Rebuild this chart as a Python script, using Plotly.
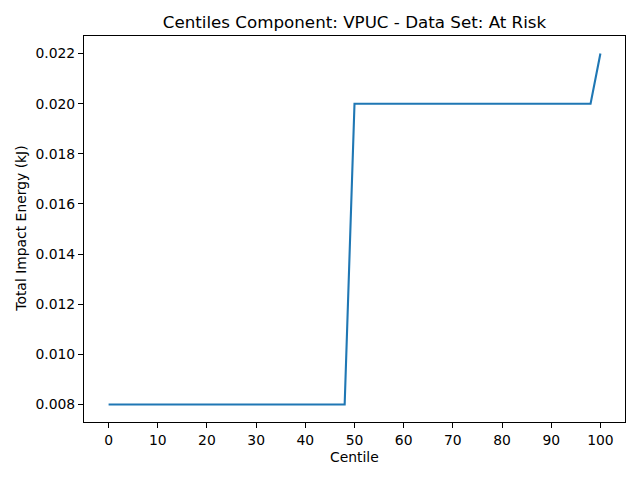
import plotly.graph_objects as go

centiles = [0, 2, 4, 6, 8, 10, 12, 14, 16, 18, 20, 22, 24, 26, 28, 30, 32, 34, 36, 38, 40,
            42, 44, 46, 48, 50, 52, 54, 56, 58, 60, 62, 64, 66, 68, 70, 72, 74, 76, 78, 80,
            82, 84, 86, 88, 90, 92, 94, 96, 98, 100]
energy = [0.008] * 25 + [0.020] * 25 + [0.022]

x_ticks = [0, 10, 20, 30, 40, 50, 60, 70, 80, 90, 100]
y_ticks = [0.008, 0.010, 0.012, 0.014, 0.016, 0.018, 0.020, 0.022]

font = "DejaVu Sans"
fig = go.Figure()
fig.add_trace(go.Scatter(x=centiles, y=energy, mode="lines",
                         line=dict(color="#1f77b4", width=2.1)))

axis_common = dict(showline=True, linecolor="black", linewidth=1, mirror=True,
                   ticks="outside", ticklen=5, tickwidth=1, tickcolor="black",
                   showgrid=False, zeroline=False, automargin=False,
                   tickfont=dict(family=font, size=13.9, color="black"))
fig.update_xaxes(range=[-5, 105], tickvals=x_ticks, **axis_common)
fig.update_yaxes(range=[0.0073, 0.0227], tickvals=y_ticks, tickformat=".3f", **axis_common)

fig.update_layout(
    template="none",
    width=640, height=480,
    margin=dict(l=84, r=15, t=36, b=58, autoexpand=False),
    plot_bgcolor="white", paper_bgcolor="white",
    showlegend=False,
    title=dict(text="Centiles Component: VPUC - Data Set: At Risk",
               font=dict(family=font, size=16.7, color="black"),
               x=(84 + 625) / 2 / 640, xanchor="center",
               y=1 - 22 / 480, yanchor="middle"),
    annotations=[
        dict(text="Centile", xref="paper", yref="paper", x=0.5, y=-0.09,
             xanchor="center", yanchor="middle", showarrow=False,
             font=dict(family=font, size=13.9, color="black")),
        dict(text="Total Impact Energy (kJ)", xref="paper", yref="paper",
             x=-0.117, y=0.5, textangle=-90, xanchor="center", yanchor="middle",
             showarrow=False, font=dict(family=font, size=13.9, color="black")),
    ],
)

fig.write_html("out.html", config={"displayModeBar": False},
               post_script="document.body.style.margin='0';document.body.style.overflow='hidden';")
